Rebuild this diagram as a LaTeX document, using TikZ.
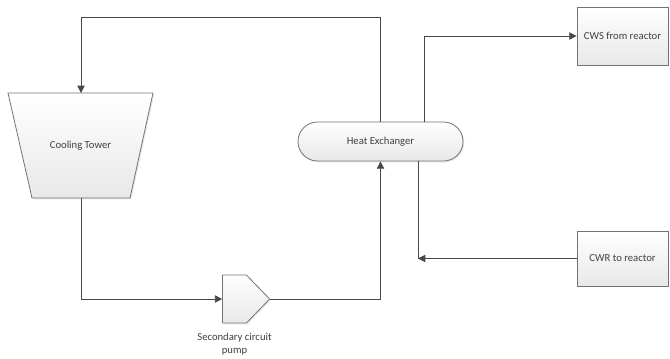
\documentclass[tikz,border=0pt]{standalone}
\usepackage{fontspec}
\setmainfont{Carlito}
\usetikzlibrary{shapes.misc,shapes.symbols,arrows.meta,shadows}

\tikzset{every picture/.style={line width=0.75pt}}
\tikzset{
	unit/.style={draw=black!55, line width=0.6pt, top color=white, bottom color=black!9, drop shadow={opacity=0.18, shadow xshift=1pt, shadow yshift=-1pt}, font=\fontsize{8}{9.6}\selectfont, text=black!75},
	flow/.style={draw=black!72, line width=0.6pt, -{Triangle[length=5.5pt,width=5.5pt]}},
	plain/.style={draw=black!72, line width=0.6pt}
}

\begin{document}
\begin{tikzpicture}[x=0.75pt,y=0.75pt,yscale=-1,xscale=1]
	\useasboundingbox (0,0) rectangle (670,358);

	%Shape: Trapezoid
	\path[unit] (8,93) -- (153,93) -- (130,198) -- (32,198) -- cycle ;
	\node[font=\fontsize{8}{9.6}\selectfont, text=black!75] (tower) at (80.5,145.5) {Cooling Tower};
	\coordinate (towertop) at (81,93);
	\coordinate (towerbot) at (81,198);
	%Shape: Rounded Rectangle
	\node[unit, rounded rectangle, minimum width=123.75pt, minimum height=29.25pt, inner sep=0pt] (hx) at (380.5,141.5) {Heat Exchanger};
	%Shape: Signal
	\node[unit, signal, signal to=east, signal pointer angle=92, minimum width=35.25pt, minimum height=36pt, inner sep=0pt] (pump) at (234.5,299) {};
	%Shape: Rectangle
	\node[unit, rectangle, minimum width=68.25pt, minimum height=43.5pt] (cws) at (622.5,36) {CWS from reactor};
	%Shape: Rectangle
	\node[unit, rectangle, minimum width=68.25pt, minimum height=41.25pt] (cwr) at (622.5,258.5) {CWR to reactor};

	% Text Node
	\node[font=\fontsize{8}{9.6}\selectfont, text=black!75, align=center] (pumplabel) at (234.5,344) {Secondary circuit\\pump};

	%Connectors
	\draw[flow] (hx.north) -- ++(0,-104) -| (towertop);
	\draw[flow] (towerbot) |- (pump.west);
	\draw[flow] (pump.east) -| (hx.south);
	\draw[flow] ([xshift=32.6pt]hx.north) |- (cws.west);
	\coordinate (ret) at ([xshift=28.1pt]hx.south |- cwr.west);
	\draw[plain] ([xshift=28.1pt]hx.south) -- (ret);
	\draw[flow] (cwr.west) -- (ret);

\end{tikzpicture}
\end{document}
